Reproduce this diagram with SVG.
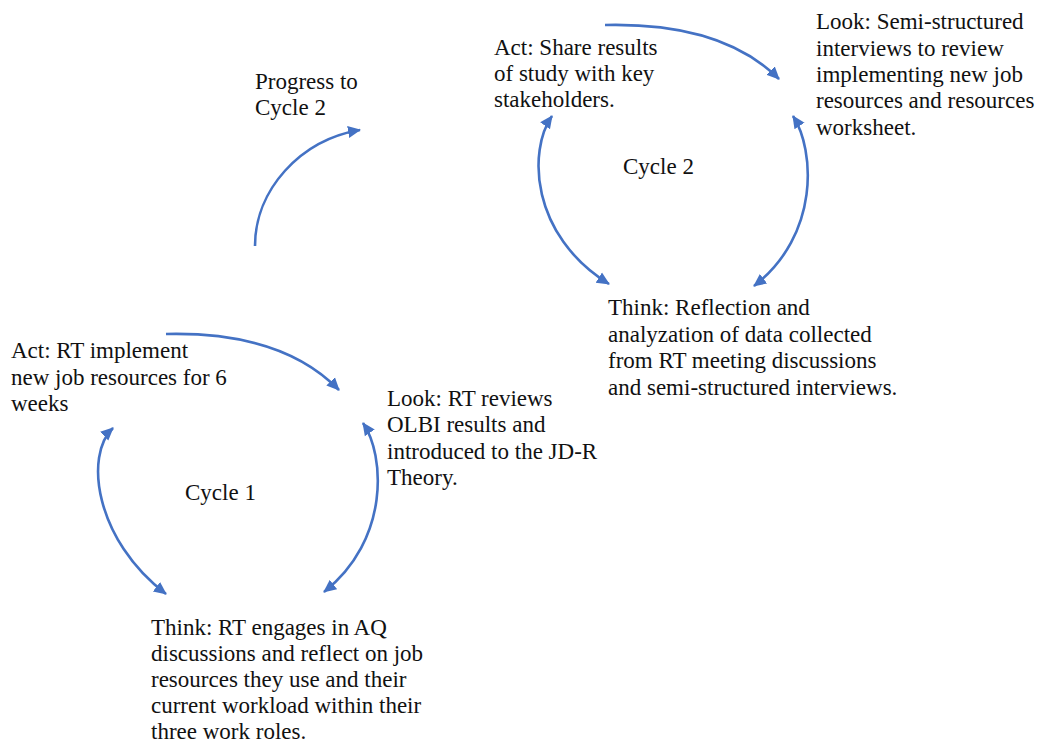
<svg xmlns="http://www.w3.org/2000/svg" width="1039" height="742" viewBox="0 0 1039 742">
<style>
text{font-family:'Liberation Serif','Times New Roman',serif;font-size:23px;fill:#111}
.c{fill:none;stroke:#4472C4;stroke-width:2.6}
.a{marker-end:url(#ah)}
.d{marker-start:url(#ahs);marker-end:url(#ah)}
</style>
<defs>
<marker id="ah" markerUnits="userSpaceOnUse" markerWidth="14" markerHeight="14" viewBox="0 0 14 14" refX="12" refY="7" orient="auto"><path d="M0,1 L13,7 L0,13 Z" fill="#4472C4"/></marker>
<marker id="ahs" markerUnits="userSpaceOnUse" markerWidth="14" markerHeight="14" viewBox="0 0 14 14" refX="12" refY="7" orient="auto-start-reverse"><path d="M0,1 L13,7 L0,13 Z" fill="#4472C4"/></marker>
</defs>
<rect width="1039" height="742" fill="#fff"/>
<g id="connectors">
<path class="c a" d="M166,334 C250,332 305,355 339,390"/>
<path class="c d" d="M113,428 C84,455 95,540 166,594"/>
<path class="c d" d="M363,423 C385,455 390,540 324,592"/>
<path class="c a" d="M605,25 C690,23 745,45 779,79"/>
<path class="c d" d="M552,116 C528,150 530,235 609,284"/>
<path class="c d" d="M793,116 C815,150 820,235 754,286"/>
<path class="c a" d="M255,246 C255,190 300,140 360,130"/>
</g>
<g id="progress"><text x="255" y="89">Progress to</text><text x="255" y="115">Cycle 2</text></g>
<g id="cycle1"><text x="185" y="500">Cycle 1</text></g>
<g id="act1"><text x="11" y="358">Act: RT implement</text><text x="11" y="385">new job resources for 6</text><text x="11" y="411">weeks</text></g>
<g id="look1"><text x="387" y="406">Look: RT reviews</text><text x="387" y="432">OLBI results and</text><text x="387" y="459">introduced to the JD-R</text><text x="387" y="485">Theory.</text></g>
<g id="think1"><text x="151" y="635">Think: RT engages in AQ</text><text x="151" y="661">discussions and reflect on job</text><text x="151" y="687">resources they use and their</text><text x="151" y="713">current workload within their</text><text x="151" y="739">three work roles.</text></g>
<g id="cycle2"><text x="623" y="174">Cycle 2</text></g>
<g id="act2"><text x="494" y="55">Act: Share results</text><text x="494" y="81">of study with key</text><text x="494" y="107">stakeholders.</text></g>
<g id="look2"><text x="816" y="29">Look: Semi-structured</text><text x="816" y="56">interviews to review</text><text x="816" y="82">implementing new job</text><text x="816" y="108">resources and resources</text><text x="816" y="135">worksheet.</text></g>
<g id="think2"><text x="608" y="315">Think: Reflection and</text><text x="608" y="342">analyzation of data collected</text><text x="608" y="368">from RT meeting discussions</text><text x="608" y="395">and semi-structured interviews.</text></g>
</svg>
